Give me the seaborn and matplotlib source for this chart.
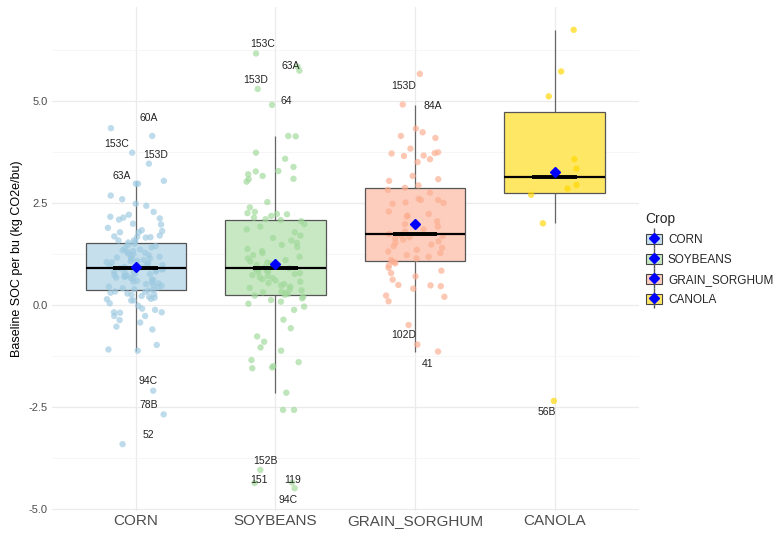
import numpy as np
import pandas as pd
import matplotlib
matplotlib.use("Agg")
import matplotlib.pyplot as plt
import seaborn as sns
from matplotlib.patches import Patch
from matplotlib.lines import Line2D
from matplotlib.legend_handler import HandlerTuple

# values
crops = ["CORN", "SOYBEANS", "GRAIN_SORGHUM", "CANOLA"]

corn_soc = [4.33, 4.14, 3.73, 3.46, 3.04, 2.97, 2.97, 2.68, 2.59, 2.48, 2.43, 2.28, 2.21,
            2.16, 2.14, 2.12, 2.09, 1.99, 1.97, 1.89, 1.83, 1.81, 1.78, 1.78, 1.70, 1.68,
            1.67, 1.66, 1.65, 1.58, 1.58, 1.55, 1.53,
            1.50, 1.47, 1.44, 1.41, 1.38, 1.36, 1.34, 1.32, 1.30, 1.28, 1.26, 1.24, 1.22,
            1.20, 1.18, 1.16, 1.14, 1.13, 1.11, 1.10, 1.08, 1.07, 1.05, 1.04, 1.02, 1.01,
            0.99, 0.98, 0.96, 0.95, 0.93, 0.92, 0.90, 0.88, 0.87, 0.85, 0.84, 0.82, 0.81,
            0.79, 0.78, 0.76, 0.75, 0.73, 0.72, 0.70, 0.69, 0.67, 0.66, 0.64, 0.62, 0.61,
            0.59, 0.57, 0.55, 0.53, 0.51, 0.49, 0.47, 0.45, 0.43, 0.41, 0.39, 0.37, 0.35,
            0.33, 0.32, 0.30, 0.28, 0.26, 0.25, 0.22, 0.20, 0.18, 0.15, 0.14, 0.11, 0.11,
            0.04, -0.02, -0.09, -0.12, -0.18, -0.18, -0.19, -0.27, -0.27, -0.37, -0.43,
            -0.53, -0.60, -0.98, -1.09, -1.12, -2.10, -2.68, -3.41]

soy_soc = [6.16, 5.84, 5.74, 5.29, 4.90, 4.14, 4.13, 3.73, 3.58, 3.38, 3.28, 3.27, 3.20,
           3.16, 3.09, 3.08, 3.02, 2.52, 2.39, 2.28, 2.25, 2.23, 2.22, 2.18, 2.14, 2.10,
           2.08, 2.05, 1.98, 1.92, 1.85, 1.78, 1.70, 1.64, 1.58, 1.52, 1.47, 1.42, 1.37,
           1.32, 1.27, 1.22, 1.18, 1.14, 1.10, 1.07, 1.04, 1.01, 0.98, 0.96, 0.94, 0.92,
           0.90, 0.88, 0.86, 0.84, 0.82, 0.80, 0.78, 0.76, 0.73, 0.71, 0.68, 0.66, 0.63,
           0.60, 0.57, 0.54, 0.51, 0.48, 0.45, 0.42, 0.39, 0.36, 0.33, 0.31, 0.29, 0.27,
           0.25,
           0.23, 0.20, 0.16, 0.12, 0.08, 0.03, -0.04, -0.12, -0.36, -0.57, -0.77, -0.90,
           -1.04, -1.12, -1.35, -1.40, -1.50, -1.53, -1.55, -2.15, -2.57, -2.57, -4.04,
           -4.35, -4.36, -4.49]

sorghum_soc = [5.66, 4.91, 4.32, 4.23, 4.14, 4.09, 3.83, 3.74, 3.72, 3.71, 3.66, 3.65,
               3.57, 3.50, 3.16, 3.08, 3.04, 2.93,
               2.87, 2.82, 2.75, 2.60, 2.57, 2.57, 2.51, 2.50, 2.48, 2.29, 2.23, 2.19,
               2.16, 2.05, 1.98, 1.92, 1.85, 1.80, 1.74, 1.72, 1.69, 1.66, 1.63, 1.60,
               1.56, 1.52, 1.48, 1.44, 1.40, 1.35, 1.31, 1.27, 1.22, 1.18, 1.14, 1.10,
               1.07,
               1.05, 1.02, 0.97, 0.91, 0.84, 0.78, 0.70, 0.62, 0.49, 0.48, 0.46, 0.40,
               0.23, 0.20, 0.09, -0.49, -0.97, -1.14]

canola_soc = [6.74, 5.72, 5.11, 3.57, 3.34, 2.94, 2.85, 2.70, 2.00, -2.35]

# sample ids written next to the extreme points
label_crop = ["CORN", "CORN", "CORN", "CORN", "CORN", "CORN", "CORN",
              "SOYBEANS", "SOYBEANS", "SOYBEANS", "SOYBEANS",
              "SOYBEANS", "SOYBEANS", "SOYBEANS", "SOYBEANS",
              "GRAIN_SORGHUM", "GRAIN_SORGHUM", "GRAIN_SORGHUM", "GRAIN_SORGHUM",
              "CANOLA"]
label_text = ["60A", "153C", "153D", "63A", "94C", "78B", "52",
              "153C", "63A", "153D", "64", "152B", "151", "119", "94C",
              "153D", "84A", "102D", "41",
              "56B"]
label_soc = [4.33, 3.73, 3.46, 3.04, -2.10, -2.68, -3.41,
             6.16, 5.84, 5.74, 4.90, -4.04, -4.35, -4.36, -4.49,
             5.66, 4.91, -0.97, -1.14,
             -2.35]

df = pd.DataFrame({
    "crop": ["CORN"] * len(corn_soc) + ["SOYBEANS"] * len(soy_soc)
            + ["GRAIN_SORGHUM"] * len(sorghum_soc) + ["CANOLA"] * len(canola_soc),
    "soc": corn_soc + soy_soc + sorghum_soc + canola_soc,
})

point_cols = ["#9ecae1", "#a1d99b", "#fcae91", "#ffd700"]
box_cols = ["#c5dfed", "#c7e8c3", "#fdcebd", "#ffe766"]

sns.set_theme(style="whitegrid")
plt.rcParams["font.family"] = ["Liberation Sans", "DejaVu Sans"]

fig = plt.figure(figsize=(7.82, 5.33), dpi=100)
ax = fig.add_axes([0.0665, 0.041, 0.75, 0.946])

sns.boxplot(data=df, x="crop", y="soc", hue="crop", order=crops, hue_order=crops,
            palette=box_cols, saturation=1, width=0.72, whis=1.5, showfliers=False,
            linecolor="#555555", linewidth=0.9, legend=False, ax=ax,
            showmeans=True,
            meanprops=dict(marker="D", markerfacecolor="blue", markeredgecolor="blue",
                           markersize=5.5, zorder=7),
            medianprops=dict(color="black", linewidth=1.6, zorder=5),
            whiskerprops=dict(color="#666666", linewidth=0.9),
            capprops=dict(visible=False))

np.random.seed(7)
sns.stripplot(data=df, x="crop", y="soc", hue="crop", order=crops, hue_order=crops,
              palette=point_cols, jitter=0.21, size=4.6, alpha=0.68, linewidth=0,
              legend=False, zorder=2, ax=ax)

# thicker short bar on the median
med = df.groupby("crop")["soc"].median().reindex(crops)
ax.hlines(med.values, np.arange(4) - 0.16, np.arange(4) + 0.16, color="black",
          linewidth=2.8, zorder=6)

# where each id sits relative to its crop centre and its value (data units)
label_shift = [(0.09, 0.25), (-0.14, 0.22), (0.14, 0.22), (-0.10, 0.12), (0.09, 0.24),
               (0.09, 0.23), (0.09, 0.22),
               (-0.09, 0.24), (0.11, 0.02), (-0.14, -0.23), (0.08, 0.10),
               (-0.07, 0.22), (-0.12, 0.06), (0.12, 0.07), (0.09, -0.29),
               (-0.08, -0.29), (0.13, -0.03), (-0.08, 0.23), (0.09, -0.31),
               (-0.06, -0.27)]
for crop, txt, val, (dx, dy) in zip(label_crop, label_text, label_soc, label_shift):
    xi = crops.index(crop)
    ax.text(xi + dx, val + dy, txt, ha="center", va="center", fontsize=7.5,
            color="#222222", zorder=8)

ax.set_xlim(-0.6, 3.6)
ax.set_ylim(-5.05, 7.3)
ax.set_yticks([-5, -2.5, 0, 2.5, 5])
ax.set_yticklabels(["-5.0", "-2.5", "0.0", "2.5", "5.0"])
ax.set_yticks([-3.75, -1.25, 1.25, 3.75, 6.25], minor=True)
ax.grid(which="major", color="#ebebeb", linewidth=0.9)
ax.grid(which="minor", axis="y", color="#f3f3f3", linewidth=0.5)
ax.set_axisbelow(True)
for s in ax.spines.values():
    s.set_visible(False)
ax.tick_params(axis="y", labelsize=8, labelcolor="#4d4d4d", length=0, pad=3)
ax.tick_params(axis="x", labelsize=11, labelcolor="#4d4d4d", length=0, pad=2)
ax.set_xlabel("")
ax.set_ylabel("Baseline SOC per bu (kg CO2e/bu)", fontsize=9, color="black", labelpad=4)

handles = [(Patch(facecolor=c, edgecolor="#444444", linewidth=0.8),
            Line2D([], [], color="#555555", marker="|", markersize=15, linestyle="None"),
            Line2D([], [], color="blue", marker="D", markersize=5.5, linestyle="None"))
           for c in box_cols]
leg = ax.legend(handles, crops, title="Crop", loc="center left",
                bbox_to_anchor=(1.008, 0.5), frameon=False, fontsize=8.5,
                title_fontsize=10, handler_map={tuple: HandlerTuple(ndivide=1)},
                handlelength=1.4, handleheight=1.0, labelspacing=0.65,
                handletextpad=0.5, borderaxespad=0, borderpad=0.2)
leg._legend_box.align = "left"

fig.savefig("out.png", dpi=100)
